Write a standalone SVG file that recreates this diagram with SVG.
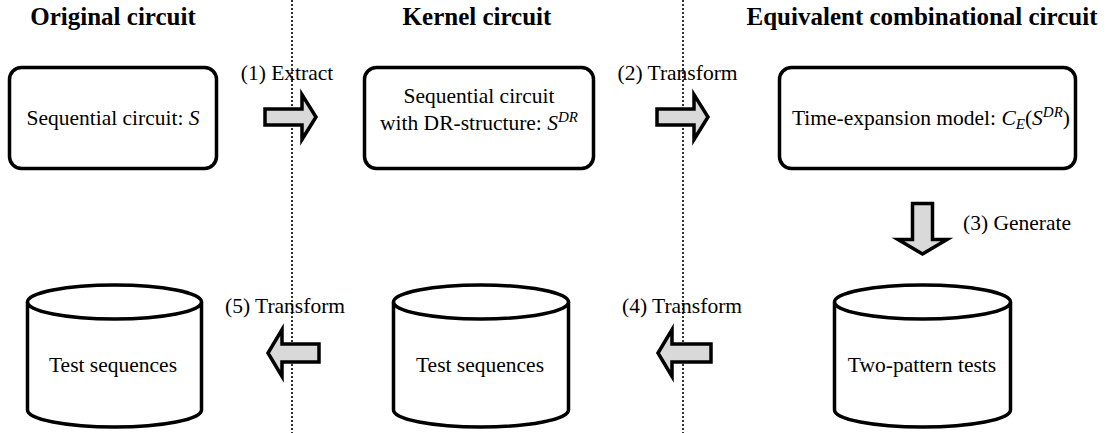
<svg xmlns="http://www.w3.org/2000/svg" width="1111" height="433" viewBox="0 0 1111 433" font-family="'Liberation Serif', 'Times New Roman', 'DejaVu Serif', serif">
<style>
text, tspan { font-family: 'Liberation Serif', 'Times New Roman', 'DejaVu Serif', serif; }
text{fill:#000}
.title{font-size:25px;font-weight:bold;text-anchor:middle}
.t{font-size:21.5px}
.c{text-anchor:middle}
.box{fill:#fff;stroke:#000;stroke-width:3.5}
.cyl{fill:#fff;stroke:#000;stroke-width:3.5}
.arrow{fill:#d9d9d9;stroke:#000;stroke-width:3.5;stroke-linejoin:miter}
.div{stroke:#000;stroke-width:1.6;stroke-dasharray:2 2;fill:none}
</style>
<rect width="1111" height="433" fill="#fff"/>
<g id="dividers">
<line class="div" x1="292" y1="0" x2="292" y2="433"/>
<line class="div" x1="683" y1="0" x2="683" y2="433"/>
</g>
<g id="titles">
<text class="title" x="113" y="25">Original circuit</text>
<text class="title" x="477" y="25">Kernel circuit</text>
<text class="title" x="922" y="25">Equivalent combinational circuit</text>
</g>
<g id="node-original">
<rect class="box" x="9.5" y="67.5" width="207" height="101" rx="12"/>
<text class="t c" x="113" y="125">Sequential circuit: <tspan font-style="italic">S</tspan></text>
</g>
<g id="node-kernel">
<rect class="box" x="364.5" y="67.5" width="229" height="101" rx="12"/>
<text class="t c" x="479" y="103">Sequential circuit</text>
<text class="t c" x="479" y="130">with DR-structure: <tspan font-style="italic">S</tspan><tspan font-style="italic" font-size="15" dy="-8">DR</tspan></text>
</g>
<g id="node-timeexp">
<rect class="box" x="779.5" y="67.5" width="296" height="101" rx="12"/>
<text class="t c" x="931" y="125">Time-expansion model: <tspan font-style="italic">C</tspan><tspan font-style="italic" font-size="15" dy="4">E</tspan><tspan dy="-4">(</tspan><tspan font-style="italic">S</tspan><tspan font-style="italic" font-size="15" dy="-8">DR</tspan><tspan dy="8">)</tspan></text>
</g>
<g id="node-testseq-orig">
<path class="cyl" d="M27.5,302 V410 A87,17 0 0 0 201.5,410 V302"/>
<ellipse class="cyl" cx="114.5" cy="302" rx="87" ry="17"/>
<text class="t c" x="113" y="372">Test sequences</text>
</g>
<g id="node-testseq-kernel">
<path class="cyl" d="M393.5,302 V410 A87.5,17 0 0 0 568.5,410 V302"/>
<ellipse class="cyl" cx="481" cy="302" rx="87.5" ry="17"/>
<text class="t c" x="480" y="372">Test sequences</text>
</g>
<g id="node-twopattern">
<path class="cyl" d="M834.5,302 V410 A88,17 0 0 0 1010.5,410 V302"/>
<ellipse class="cyl" cx="922.5" cy="302" rx="88" ry="17"/>
<text class="t c" x="922" y="372">Two-pattern tests</text>
</g>
<g id="connectors">
<path class="arrow" d="M265,109 H302 V94.5 L316,117 L302,139.5 V125 H265 Z"/>
<path class="arrow" d="M657,109 H694 V94.5 L708,117 L694,139.5 V125 H657 Z"/>
<path class="arrow" d="M912.5,203.5 V239.5 H898 L922.5,254 L947,239.5 H932.5 V203.5 Z"/>
<path class="arrow" d="M711,344 H672 V329.5 L658,353 L672,376.5 V362 H711 Z"/>
<path class="arrow" d="M319,344 H282 V329.5 L268,353 L282,376.5 V362 H319 Z"/>
<text class="t c" x="287" y="80">(1) Extract</text>
<text class="t c" x="677.5" y="80">(2) Transform</text>
<text class="t" x="963" y="230">(3) Generate</text>
<text class="t c" x="682" y="313">(4) Transform</text>
<text class="t c" x="285" y="313">(5) Transform</text>
</g>
</svg>
